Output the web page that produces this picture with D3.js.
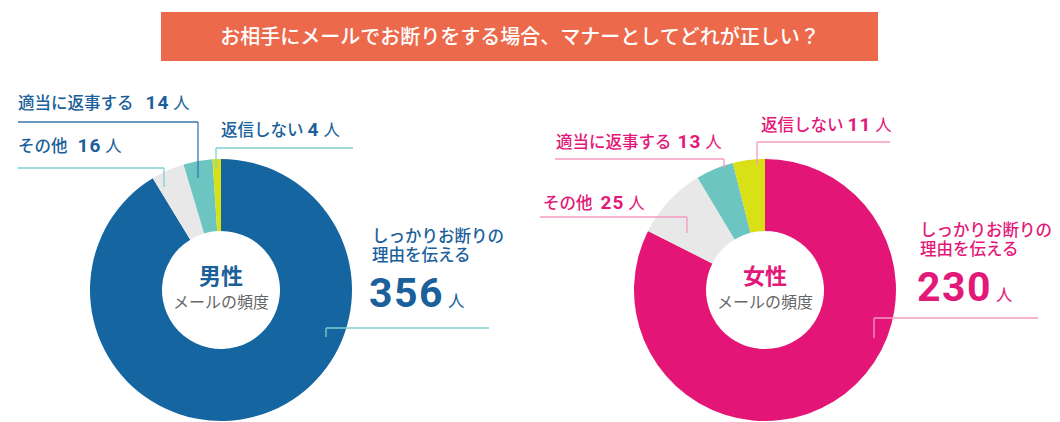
<!DOCTYPE html>
<html>
<head>
<meta charset="utf-8">
<script src="https://d3js.org/d3.v7.min.js"></script>
<style>
    body { margin: 0; background: #fff; }
    svg { display: block; font-family: "Noto Sans CJK JP", "Noto Sans", sans-serif; }
    .num { font-family: Roboto, "Noto Sans", sans-serif; }
</style>
</head>
<body>
<svg></svg>
<script>
    const width = 1060;
    const height = 422;

    // data
    const title = "お相手にメールでお断りをする場合、マナーとしてどれが正しい？";
    const categories = ["しっかりお断りの理由を伝える", "その他", "適当に返事する", "返信しない"];
    const mainLabelLines = ["しっかりお断りの", "理由を伝える"];
    const maleValues = [356, 16, 14, 4];
    const femaleValues = [230, 25, 13, 11];
    const unit = "人";

    const otherColors = ["#e8e8e8", "#6cc5c1", "#d9e015"];

    const charts = [
        {
            name: "男性", values: maleValues, cx: 221, cy: 290,
            main: "#1565a0", text: "#1b5f9b", line: "#80cfd0",
            callouts: [
                { tx: 372, ty: 242, ly: 328, lx1: 326, lx2: 489, vx: 326, vy: 337 },
                { tx: 18, ty: 152, ly: 168, lx1: 18, lx2: 164, vx: 164, vy: 187, gap: 10 },
                { tx: 18, ty: 109, ly: 122, lx1: 18, lx2: 198, vx: 198, vy: 178, gap: 12, color: "#3a74ab" },
                { tx: 221, ty: 136, ly: 148, lx1: 216, lx2: 353, vx: 216, vy: 169, gap: 4 }
            ]
        },
        {
            name: "女性", values: femaleValues, cx: 765, cy: 290,
            main: "#e31677", text: "#e3197a", line: "#f39bc0",
            callouts: [
                { tx: 920, ty: 236, ly: 318, lx1: 874, lx2: 1038, vx: 874, vy: 338 },
                { tx: 543, ty: 209, ly: 217, lx1: 540, lx2: 687, vx: 687, vy: 233, gap: 8 },
                { tx: 556, ty: 148, ly: 159, lx1: 555, lx2: 724, vx: 724, vy: 168, gap: 6 },
                { tx: 761, ty: 131, ly: 142, lx1: 757, lx2: 890, vx: 757, vy: 165, gap: 4 }
            ]
        }
    ];

    const outerR = 131;
    const innerR = 59;

    const svg = d3.select("svg").attr("width", width).attr("height", height);

    // title bar
    svg.append("rect")
        .attr("x", 161).attr("y", 12)
        .attr("width", 717).attr("height", 49)
        .attr("fill", "#ec6a4b");
    svg.append("text")
        .attr("x", 520).attr("y", 44)
        .attr("text-anchor", "middle")
        .attr("fill", "#fff")
        .style("font-size", "20px")
        .style("font-weight", 500)
        .text(title);

    const pie = d3.pie().sort(null).value(d => d);
    const arc = d3.arc().innerRadius(innerR).outerRadius(outerR);

    charts.forEach(c => {
        const colors = [c.main].concat(otherColors);
        const g = svg.append("g").attr("transform", `translate(${c.cx},${c.cy})`);

        g.selectAll("path")
            .data(pie(c.values))
            .enter().append("path")
            .attr("d", arc)
            .attr("fill", (d, i) => colors[i]);

        g.append("text")
            .attr("y", -6)
            .attr("text-anchor", "middle")
            .attr("fill", c.text)
            .style("font-size", "22px")
            .style("font-weight", "bold")
            .text(c.name);
        g.append("text")
            .attr("y", 18)
            .attr("text-anchor", "middle")
            .attr("fill", "#666")
            .style("font-size", "16px")
            .text("メールの頻度");

        // callouts
        c.callouts.forEach((p, i) => {
            const col = p.color || c.line;
            svg.append("line")
                .attr("x1", p.lx1).attr("x2", p.lx2)
                .attr("y1", p.ly).attr("y2", p.ly)
                .attr("stroke", col).attr("stroke-width", 1.3);
            svg.append("line")
                .attr("x1", p.vx).attr("x2", p.vx)
                .attr("y1", p.ly).attr("y2", p.vy)
                .attr("stroke", col).attr("stroke-width", 1.3);

            if (i === 0) {
                const t = svg.append("text")
                    .attr("fill", c.text)
                    .style("font-size", "16.5px")
                    .style("font-weight", 500);
                mainLabelLines.forEach((s, k) => {
                    t.append("tspan")
                        .attr("x", p.tx).attr("y", p.ty + k * 19)
                        .text(s);
                });
                const n = svg.append("text")
                    .attr("fill", c.text)
                    .attr("x", p.tx - 3).attr("y", p.ty + 65);
                n.append("tspan")
                    .attr("class", "num")
                    .style("font-size", "41px")
                    .style("font-weight", "bold")
                    .style("letter-spacing", "1.5px")
                    .text(c.values[0]);
                n.append("tspan")
                    .attr("dx", 4)
                    .style("font-size", "16.5px")
                    .text(unit);
            } else {
                const t = svg.append("text")
                    .attr("x", p.tx).attr("y", p.ty)
                    .attr("fill", c.text);
                t.append("tspan")
                    .style("font-size", "16.5px")
                    .style("font-weight", 500)
                    .text(categories[i]);
                t.append("tspan")
                    .attr("class", "num")
                    .attr("dx", p.gap)
                    .style("font-size", "19px")
                    .style("font-weight", "bold")
                    .style("letter-spacing", "1px")
                    .text(c.values[i]);
                t.append("tspan")
                    .attr("dx", 4)
                    .style("font-size", "16.5px")
                    .text(unit);
            }
        });
    });
</script>
</body>
</html>
